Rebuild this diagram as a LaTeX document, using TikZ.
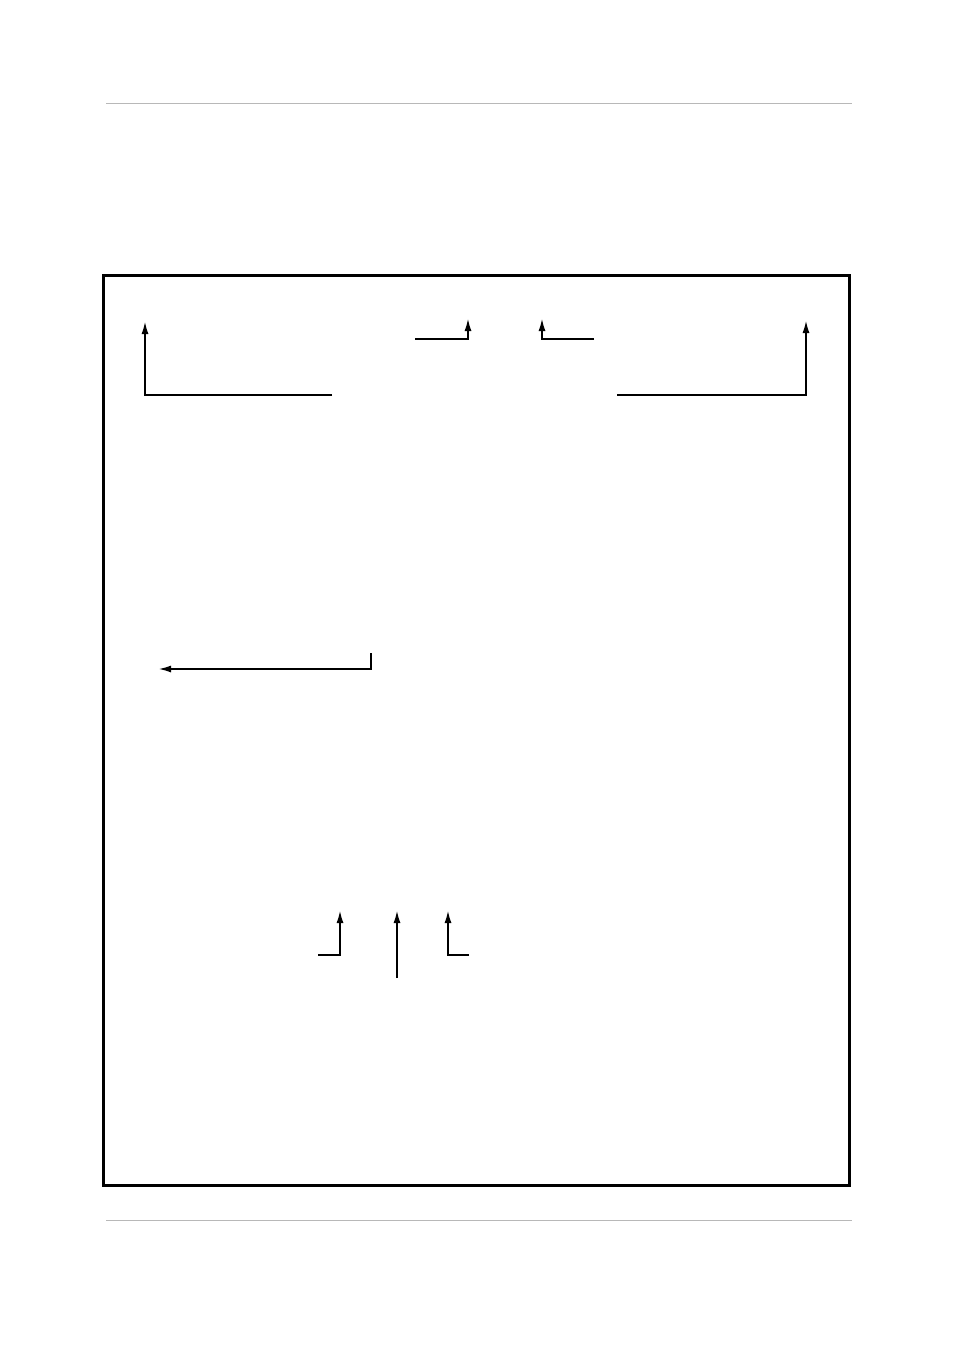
\documentclass[tikz,border=0pt]{standalone}
\usetikzlibrary{arrows.meta}
\begin{document}
\begin{tikzpicture}[x=1pt,y=-1pt,
  conn/.style={line width=1.2pt,-{Latex[length=12pt,width=7pt]}},
  rule/.style={line width=1pt,draw=black!28},
  frame/.style={line width=3pt,draw=black}]
\useasboundingbox (0,0) rectangle (954,1351);
\draw[rule] (106,104) -- (852,104);
\draw[rule] (106,1220) -- (852,1220);
\draw[frame] (103.5,275) rectangle (849.5,1185.5);
% top arrows
\coordinate (a1s) at (332,395); \coordinate (a1t) at (145,322);
\draw[conn] (a1s) -| (a1t);
\coordinate (a2s) at (415,339); \coordinate (a2t) at (468,319);
\draw[conn] (a2s) -| (a2t);
\coordinate (a3s) at (594,339); \coordinate (a3t) at (542,319);
\draw[conn] (a3s) -| (a3t);
\coordinate (a4s) at (617,395); \coordinate (a4t) at (806,321);
\draw[conn] (a4s) -| (a4t);
% middle arrow
\coordinate (a5s) at (371,653); \coordinate (a5t) at (159,669);
\draw[conn] (a5s) |- (a5t);
% bottom arrows
\coordinate (a6s) at (318,955); \coordinate (a6t) at (340,911);
\draw[conn] (a6s) -| (a6t);
\coordinate (a7s) at (397,978); \coordinate (a7t) at (397,911);
\draw[conn] (a7s) -- (a7t);
\coordinate (a8s) at (469,955); \coordinate (a8t) at (448,911);
\draw[conn] (a8s) -| (a8t);
\end{tikzpicture}
\end{document}
